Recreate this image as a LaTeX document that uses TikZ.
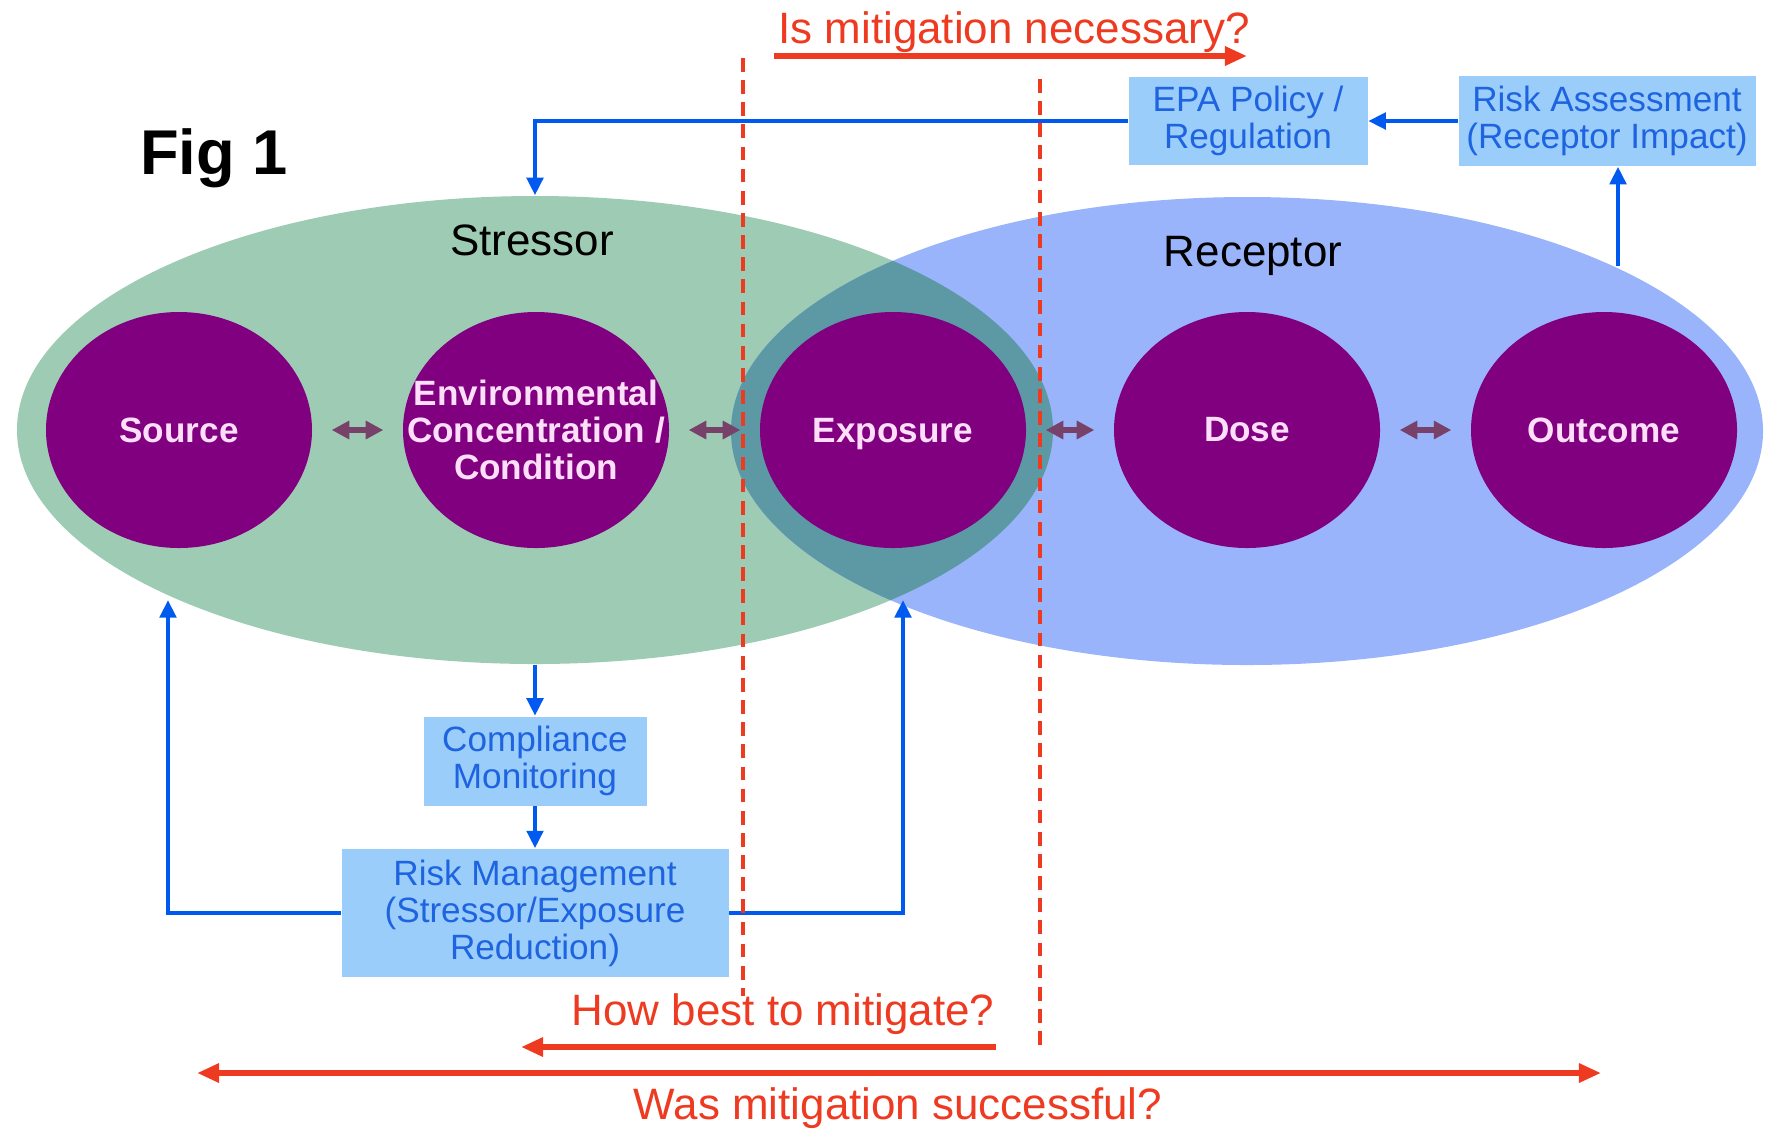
\documentclass[tikz,border=0pt]{standalone}
\usepackage{fontspec}
\setmainfont{Liberation Sans}
\usetikzlibrary{shapes.geometric,arrows.meta}

\definecolor{stressorgreen}{RGB}{158,203,180}
\definecolor{receptorblue}{RGB}{153,180,250}
\definecolor{overlapteal}{RGB}{92,153,165}
\definecolor{stagepurple}{RGB}{128,0,128}
\definecolor{stagetext}{RGB}{255,222,250}
\definecolor{linkmauve}{RGB}{120,65,105}
\definecolor{boxblue}{RGB}{155,205,250}
\definecolor{boxtext}{RGB}{30,100,225}
\definecolor{flowblue}{RGB}{0,90,240}
\definecolor{qred}{RGB}{238,58,32}

\tikzset{
  stage/.style={ellipse, fill=stagepurple, minimum width=2.66cm, minimum height=2.36cm, inner sep=0pt},
  stagename/.style={text=stagetext, align=center, inner sep=0pt, font=\bfseries\fontsize{10}{10.5}\selectfont},
  setname/.style={inner sep=0pt, font=\fontsize{12.5}{14}\selectfont},
  infobox/.style={rectangle, fill=boxblue, text=boxtext, inner sep=0pt, align=center, font=\fontsize{10}{10.5}\selectfont},
  flow/.style={draw=flowblue, line width=1.3pt, -{Triangle[length=5pt,width=4.6pt]}},
  link/.style={draw=linkmauve, line width=1.5pt, shorten <=1.9mm, shorten >=1.9mm,
    {Triangle[length=5pt,width=5pt]}-{Triangle[length=5pt,width=5pt]}},
  question/.style={text=qred, inner sep=0pt, font=\fontsize{12.5}{14}\selectfont},
  redarrow/.style={draw=qred, line width=1.6pt, -{Triangle[length=6.3pt,width=5.2pt]}},
  divider/.style={draw=qred, line width=1pt, dash pattern=on 3.9pt off 2.4pt},
}

\begin{document}
\begin{tikzpicture}
    \useasboundingbox (0,0) rectangle (17.65,-11.28);

    % 楕円 (Stressor / Receptor)
    \node[ellipse, fill=stressorgreen, minimum width=10.36cm, minimum height=4.68cm] (stressor) at (5.35,-4.30) {};
    \node[ellipse, fill=receptorblue, minimum width=10.32cm, minimum height=4.68cm] (receptor) at (12.47,-4.31) {};
    \begin{scope}
      \clip (5.35,-4.30) ellipse (5.18cm and 2.34cm);
      \fill[overlapteal] (12.47,-4.31) ellipse (5.16cm and 2.34cm);
    \end{scope}
    \node[setname] (stressorname) at (5.32,-2.40) {Stressor};
    \node[setname] (receptorname) at (12.53,-2.56) {Receptor};

    % 段階
    \node[stage] (src) at (1.79,-4.30) {};
    \node[stagename] (srctext) at (src) {Source};

    \node[stage] (env) at (5.36,-4.30) {};
    \node[stagename] (envtext) at (env) {Environmental\\Concentration /\\Condition};

    \node[stage] (exp) at (8.93,-4.30) {};
    \node[stagename, yshift=-0.4mm] (exptext) at (exp) {Exposure};

    \node[stage] (dose) at (12.47,-4.30) {};
    \node[stagename] (dosetext) at (dose) {Dose};

    \node[stage] (out) at (16.04,-4.30) {};
    \node[stagename] (outtext) at (out) {Outcome};

    \draw[link] (src) -- (env);
    \draw[link] (env) -- (exp);
    \draw[link] (exp) -- (dose);
    \draw[link] (dose) -- (out);

    % 箱
    \node[infobox, minimum width=2.39cm, minimum height=0.88cm] (epa) at (12.48,-1.21) {EPA Policy /\\Regulation};
    \node[infobox, minimum width=2.97cm, minimum height=0.90cm] (ra) at (16.07,-1.21) {Risk Assessment\\(Receptor Impact)};
    \node[infobox, minimum width=2.23cm, minimum height=0.89cm] (comp) at (5.35,-7.61) {Compliance\\Monitoring};
    \node[infobox, minimum width=3.87cm, minimum height=1.28cm] (rm) at (5.35,-9.13) {Risk Management\\(Stressor/Exposure\\Reduction)};

    % 青い矢印
    \coordinate (raroot) at (16.18,-2.66);
    \coordinate (srcfoot) at (1.68,-6.00);
    \coordinate (expfoot) at (9.03,-6.00);
    \draw[flow] (raroot) -- (raroot |- ra.south);
    \draw[flow] (ra.west) -- (epa.east);
    \draw[flow] (epa.west) -| (stressor.north);
    \draw[flow] (stressor.south) -- (comp.north);
    \draw[flow] (comp.south) -- (rm.north);
    \draw[flow] (rm.west) -| (srcfoot);
    \draw[flow] (rm.east) -| (expfoot);

    % 点線
    \draw[divider] (7.43,-0.58) -- (7.43,-9.96);
    \draw[divider] (10.40,-0.79) -- (10.40,-10.47);

    % 問い
    \node[question] (necessary) at (10.14,-0.32) {Is mitigation necessary?};
    \coordinate (necfrom) at (7.74,-0.56);
    \coordinate (necto) at (12.47,-0.56);
    \draw[redarrow] (necfrom) -- (necto);

    \node[question] (howbest) at (7.83,-10.14) {How best to mitigate?};
    \coordinate (howfrom) at (9.96,-10.47);
    \coordinate (howto) at (5.21,-10.47);
    \draw[redarrow] (howfrom) -- (howto);

    \node[question] (successful) at (8.98,-11.08) {Was mitigation successful?};
    \coordinate (wasleft) at (1.97,-10.73);
    \coordinate (wasright) at (16.01,-10.73);
    \draw[redarrow, {Triangle[length=6.3pt,width=5.2pt]}-{Triangle[length=6.3pt,width=5.2pt]}] (wasleft) -- (wasright);

    \node[font=\bfseries\fontsize{18}{20}\selectfont, inner sep=0pt] (figlabel) at (2.14,-1.58) {Fig 1};
  \end{tikzpicture}
\end{document}
